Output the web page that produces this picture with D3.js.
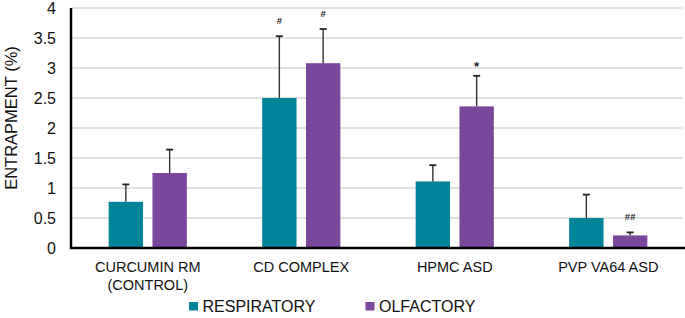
<!DOCTYPE html>
<html>
<head>
<meta charset="utf-8">
<script src="https://cdn.jsdelivr.net/npm/d3@7"></script>
<style>
  body { margin: 0; background: #fff; }
  svg { display: block; font-family: "Liberation Sans", Arial, sans-serif; }
</style>
</head>
<body>
<svg width="685" height="318"></svg>
<script>
// données
const categories = [["CURCUMIN RM", "(CONTROL)"], ["CD COMPLEX"], ["HPMC ASD"], ["PVP VA64 ASD"]];
const series = ["RESPIRATORY", "OLFACTORY"];
const respiratoire = [0.77, 2.5, 1.11, 0.5];
const respiratoire_err = [0.29, 1.03, 0.27, 0.39];
const olfactif = [1.25, 3.08, 2.36, 0.21];
const olfactif_err = [0.39, 0.57, 0.51, 0.05];
const marques_resp = ["", "#", "", ""];
const marques_olf = ["", "#", "*", "##"];
const yTicks = [0, 0.5, 1, 1.5, 2, 2.5, 3, 3.5, 4];

const couleurs = { RESPIRATORY: "#00849a", OLFACTORY: "#7a479d" };

const svg = d3.select("svg");
const gauche = 71, droite = 685, haut = 8, bas = 248;

const y = d3.scaleLinear().domain([0, 4]).range([bas, haut]);
const x0 = d3.scaleBand()
    .domain(d3.range(categories.length))
    .range([gauche, droite])
    .paddingInner(0.4906)
    .paddingOuter(0.2453);
const x1 = d3.scaleBand()
    .domain(series)
    .range([0, x0.bandwidth()])
    .paddingInner(0.215);

// lignes de grille
svg.append("g")
    .selectAll("line")
    .data(yTicks.filter(d => d > 0))
    .join("line")
    .attr("x1", gauche).attr("x2", droite - 2)
    .attr("y1", d => y(d)).attr("y2", d => y(d))
    .attr("stroke", "#d9d9d9")
    .attr("stroke-width", 1.5);

// tableau des barres
const lignes = [];
categories.forEach((c, i) => {
    lignes.push({ i, s: "RESPIRATORY", v: respiratoire[i], e: respiratoire_err[i], m: marques_resp[i] });
    lignes.push({ i, s: "OLFACTORY", v: olfactif[i], e: olfactif_err[i], m: marques_olf[i] });
});

svg.append("g")
    .selectAll("rect")
    .data(lignes)
    .join("rect")
    .attr("x", d => x0(d.i) + x1(d.s))
    .attr("y", d => y(d.v))
    .attr("width", x1.bandwidth())
    .attr("height", d => bas - y(d.v))
    .attr("fill", d => couleurs[d.s]);

// barres d'erreur
const err = svg.append("g");
const cx = d => x0(d.i) + x1(d.s) + x1.bandwidth() / 2;
err.selectAll("line.stem")
    .data(lignes)
    .join("line")
    .attr("class", "stem")
    .attr("x1", cx).attr("x2", cx)
    .attr("y1", d => y(d.v)).attr("y2", d => y(d.v + d.e))
    .attr("stroke", "#333")
    .attr("stroke-width", 1.4);
err.selectAll("line.cap")
    .data(lignes)
    .join("line")
    .attr("class", "cap")
    .attr("x1", d => cx(d) - 3.5).attr("x2", d => cx(d) + 3.5)
    .attr("y1", d => y(d.v + d.e)).attr("y2", d => y(d.v + d.e))
    .attr("stroke", "#222")
    .attr("stroke-width", 1.8);

// marques de significativité
svg.append("g")
    .selectAll("text")
    .data(lignes.filter(d => d.m))
    .join("text")
    .attr("x", cx)
    .attr("y", d => y(d.v + d.e) - (d.m === "*" ? 5 : 12))
    .attr("text-anchor", "middle")
    .attr("font-size", d => d.m === "*" ? 13 : 9.5)
    .attr("font-weight", "bold")
    .attr("fill", "#222")
    .text(d => d.m);

// axes
svg.append("line")
    .attr("x1", gauche).attr("x2", gauche)
    .attr("y1", haut).attr("y2", bas + 1)
    .attr("stroke", "#000").attr("stroke-width", 2.5);
svg.append("line")
    .attr("x1", gauche - 1).attr("x2", droite)
    .attr("y1", bas).attr("y2", bas)
    .attr("stroke", "#000").attr("stroke-width", 2.5);

// graduations
svg.append("g")
    .selectAll("text")
    .data(yTicks)
    .join("text")
    .attr("x", 56)
    .attr("y", d => y(d) + 5.5)
    .attr("text-anchor", "end")
    .attr("font-size", 16)
    .attr("fill", "#111")
    .text(d => d);

// titre de l'axe y
svg.append("text")
    .attr("transform", "translate(17,118) rotate(-90)")
    .attr("text-anchor", "middle")
    .attr("font-size", 16.5)
    .attr("fill", "#111")
    .text("ENTRAPMENT (%)");

// étiquettes des catégories
svg.append("g")
    .selectAll("text")
    .data(categories)
    .join("text")
    .attr("x", (d, i) => x0(i) + x0.bandwidth() / 2)
    .attr("y", 272)
    .attr("text-anchor", "middle")
    .attr("font-size", 14.5)
    .attr("fill", "#111")
    .selectAll("tspan")
    .data(d => d)
    .join("tspan")
    .attr("x", function () { return d3.select(this.parentNode).attr("x"); })
    .attr("dy", (d, j) => j === 0 ? 0 : 18)
    .text(d => d);

// légende
const leg = svg.append("g")
    .selectAll("g")
    .data(series)
    .join("g")
    .attr("transform", (d, i) => `translate(${[189, 365.5][i]},302)`);
leg.append("rect")
    .attr("width", 9).attr("height", 8.5)
    .attr("fill", d => couleurs[d]);
leg.append("text")
    .attr("x", 13.5).attr("y", 9.5)
    .attr("font-size", 16)
    .attr("fill", "#111")
    .text(d => d);
</script>
</body>
</html>
